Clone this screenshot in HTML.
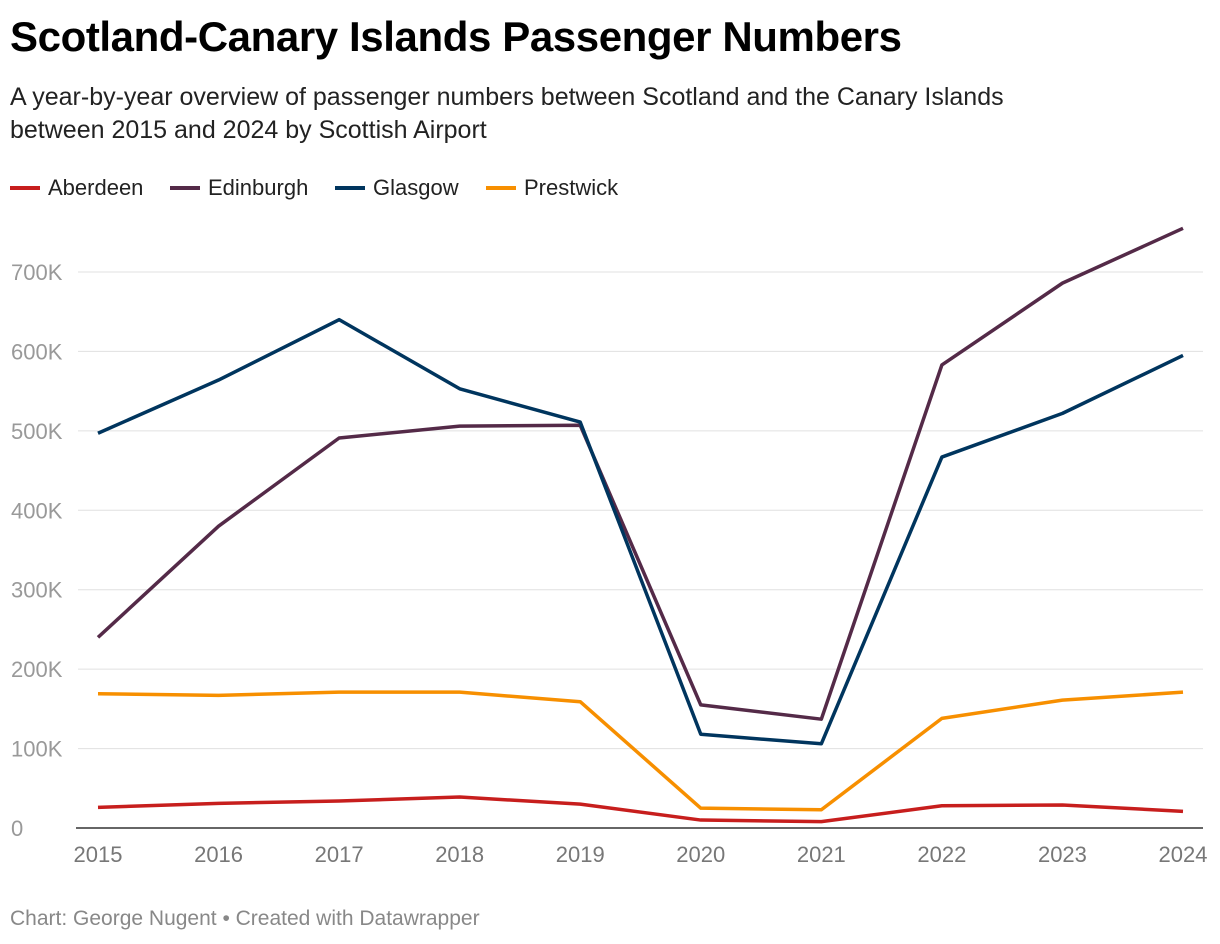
<!DOCTYPE html>
<html><head><meta charset="utf-8"><style>
body{margin:0;background:#fff;font-family:"Liberation Sans",sans-serif;}
#wrap{position:relative;width:1220px;height:944px;overflow:hidden;}
h1{position:absolute;left:10px;top:13px;margin:0;font-size:42px;font-weight:bold;color:#000;letter-spacing:-0.4px}
.sub{position:absolute;left:10px;top:81px;font-size:25px;line-height:33px;color:#222;width:1080px}
.leg{position:absolute;top:175px;font-size:22px;color:#222;display:flex;align-items:center}
.leg i{display:inline-block;width:30px;height:4px;margin-right:8px}
.foot{position:absolute;left:10px;top:907px;font-size:21px;color:#888}
</style></head><body>
<div id="wrap">
<h1>Scotland-Canary Islands Passenger Numbers</h1>
<div class="sub">A year-by-year overview of passenger numbers between Scotland and the Canary Islands between 2015 and 2024 by Scottish Airport</div>
<div class="leg" style="left:10px"><i style="background:#c71e1d"></i>Aberdeen</div>
<div class="leg" style="left:170px"><i style="background:#542a48"></i>Edinburgh</div>
<div class="leg" style="left:335px"><i style="background:#00355e"></i>Glasgow</div>
<div class="leg" style="left:486px"><i style="background:#f78f00"></i>Prestwick</div>
<svg id="plot" width="1220" height="944" style="position:absolute;left:0;top:0"></svg>
<div class="foot">Chart: George Nugent • Created with Datawrapper</div>
</div>
<script>
const years=[2015,2016,2017,2018,2019,2020,2021,2022,2023,2024];
const aberdeen=[26000,31000,34000,39000,30000,10000,8000,28000,29000,21000];
const edinburgh=[240000,380000,491000,506000,507000,155000,137000,583000,686000,755000];
const glasgow=[497000,564000,640000,553000,511000,118000,106000,467000,522000,595000];
const prestwick=[169000,167000,171000,171000,159000,25000,23000,138000,161000,171000];
const yTicks=[0,100000,200000,300000,400000,500000,600000,700000];
const yTickLabels=["0","100K","200K","300K","400K","500K","600K","700K"];
const svg=document.getElementById('plot');const NS="http://www.w3.org/2000/svg";
const x=i=>98+i*(1183-98)/(years.length-1);
const y=v=>828-v*(828-272)/700000;
function mk(t,a){const e=document.createElementNS(NS,t);for(const k in a)e.setAttribute(k,a[k]);svg.appendChild(e);return e;}
yTicks.forEach((v,i)=>{
 const l=mk('line',{x1:v===0?76:78,x2:1203,y1:y(v),y2:y(v),stroke:v===0?'#333':'#e0e0e0','stroke-width':v===0?1.5:1});
 
 
 const t=mk('text',{x:11,y:y(v)+8,fill:'#999','font-size':22,'font-family':'Liberation Sans, sans-serif'});
 t.textContent=yTickLabels[i];
 
 
});
years.forEach((yr,i)=>{
 const t=mk('text',{x:x(i),y:862,fill:'#777','font-size':22,'text-anchor':'middle','font-family':'Liberation Sans, sans-serif'});
 t.textContent=yr;
 
 
});
[[prestwick,'#f78f00','prestwick'],[aberdeen,'#c71e1d','aberdeen'],[edinburgh,'#542a48','edinburgh'],[glasgow,'#00355e','glasgow']].forEach(([d,c,n])=>{
 const p=mk('polyline',{points:d.map((v,i)=>x(i)+','+y(v)).join(' '),fill:'none',stroke:c,'stroke-width':3.5,'stroke-linejoin':'round'});
 
 
});
</script>
</body></html>
